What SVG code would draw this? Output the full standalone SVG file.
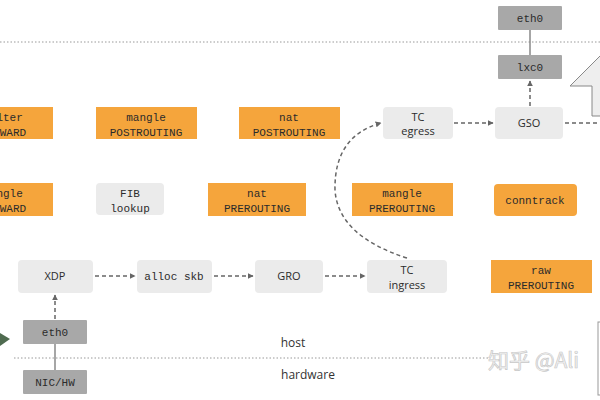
<svg xmlns="http://www.w3.org/2000/svg" width="600" height="400" viewBox="0 0 600 400">
<style>
.o{fill:#F5A53C}
.l{fill:#EBEBEB}
.d{fill:#A8A8A8}
.m{font-family:"Liberation Mono","DejaVu Sans Mono",monospace;font-size:11px;fill:#2b2b2b;text-anchor:middle}
.s{font-family:"Open Sans","Noto Sans",sans-serif;font-size:11px;fill:#2b2b2b;text-anchor:middle}
.c{fill:none;stroke:#666;stroke-width:1.5;stroke-dasharray:4 3}
.sep{stroke:#999;stroke-width:1;stroke-dasharray:1.5 2}
.lab{font-family:"Open Sans","Noto Sans",sans-serif;font-size:12px;fill:#333;text-anchor:middle}
</style>
<defs>
<marker id="ah" viewBox="0 0 10 10" refX="9" refY="5" markerWidth="4" markerHeight="4" orient="auto">
<path d="M0 0 L10 5 L0 10 z" fill="#666"/>
</marker>
</defs>
<rect width="600" height="400" fill="#fff"/>
<line class="sep" x1="0" y1="42" x2="600" y2="42"/>
<line class="sep" x1="14" y1="358" x2="490" y2="358"/>
<text class="lab" x="293" y="347">host</text>
<text class="lab" x="308" y="379">hardware</text>
<text x="488" y="368" font-family="'Noto Sans CJK SC','Noto Sans',sans-serif" font-size="21" fill="#f4f4f4" stroke="#c8c8c8" stroke-width="0.7">知乎 @Ali</text>

<g id="connectors">
<line x1="530" y1="30" x2="530" y2="55" stroke="#888" stroke-width="1.5"/>
<line x1="55" y1="344" x2="55" y2="370" stroke="#888" stroke-width="1.5"/>
<line class="c" x1="530" y1="106" x2="530" y2="81" marker-end="url(#ah)"/>
<line class="c" x1="454" y1="123" x2="493" y2="123" marker-end="url(#ah)"/>
<line class="c" x1="565" y1="123" x2="600" y2="123"/>
<line class="c" x1="95" y1="276" x2="135" y2="276" marker-end="url(#ah)"/>
<line class="c" x1="214" y1="276" x2="253" y2="276" marker-end="url(#ah)"/>
<line class="c" x1="325" y1="276" x2="365" y2="276" marker-end="url(#ah)"/>
<line class="c" x1="55" y1="319" x2="55" y2="295" marker-end="url(#ah)"/>
<path class="c" d="M407 258 Q338 236 335 190 Q334 136 381 123" marker-end="url(#ah)"/>
</g>

<g id="big-arrow">
<polygon points="570,86 601,55 632,86 612,86 612,116 592,116 592,86" fill="#eeeeee" stroke="#888" stroke-width="1"/>
</g>
<g id="green-arrow">
<polygon points="0,333 10,339 0,346" fill="#4f6b50"/>
</g>
<g id="side-box">
<rect x="598" y="322" width="12" height="73" fill="#fff" stroke="#999" stroke-width="1"/>
</g>

<g id="eth0-top"><rect class="d" x="498" y="6" width="64" height="24" rx="1"/><text class="m" x="530" y="22">eth0</text></g>
<g id="lxc0"><rect class="d" x="498" y="55" width="64" height="24" rx="1"/><text class="m" x="530" y="71">lxc0</text></g>
<g id="gso"><rect class="l" x="495" y="107" width="68" height="32" rx="4"/><text class="s" x="529" y="127">GSO</text></g>
<g id="tc-egress"><rect class="l" x="383" y="107" width="70" height="32" rx="4"/><text class="s" x="418" y="121">TC</text><text class="s" x="418" y="135">egress</text></g>

<g id="filter-forward"><rect class="o" x="-47" y="107" width="100" height="32"/><text class="m" x="3" y="121">filter</text><text class="m" x="3" y="136">FORWARD</text></g>
<g id="mangle-postrouting"><rect class="o" x="96" y="107" width="101" height="32"/><text class="m" x="146" y="121">mangle</text><text class="m" x="146" y="136">POSTROUTING</text></g>
<g id="nat-postrouting"><rect class="o" x="239" y="107" width="101" height="32"/><text class="m" x="289" y="121">nat</text><text class="m" x="289" y="136">POSTROUTING</text></g>

<g id="mangle-forward"><rect class="o" x="-47" y="183" width="100" height="33"/><text class="m" x="3" y="197">mangle</text><text class="m" x="3" y="212">FORWARD</text></g>
<g id="fib-lookup"><rect class="l" x="96" y="183" width="68" height="32" rx="4"/><text class="m" x="130" y="197">FIB</text><text class="m" x="130" y="212">lookup</text></g>
<g id="nat-prerouting"><rect class="o" x="208" y="183" width="98" height="33"/><text class="m" x="257" y="197">nat</text><text class="m" x="257" y="212">PREROUTING</text></g>
<g id="mangle-prerouting"><rect class="o" x="352" y="183" width="101" height="33"/><text class="m" x="402" y="197">mangle</text><text class="m" x="402" y="212">PREROUTING</text></g>
<g id="conntrack"><rect class="o" x="494" y="184" width="83" height="32" rx="4"/><text class="m" x="535" y="204">conntrack</text></g>

<g id="xdp"><rect class="l" x="18" y="260" width="75" height="33" rx="4"/><text class="s" x="55" y="280">XDP</text></g>
<g id="alloc-skb"><rect class="l" x="137" y="260" width="75" height="33" rx="4"/><text class="m" x="174" y="280">alloc skb</text></g>
<g id="gro"><rect class="l" x="255" y="260" width="68" height="33" rx="4"/><text class="s" x="289" y="280">GRO</text></g>
<g id="tc-ingress"><rect class="l" x="367" y="260" width="80" height="33" rx="4"/><text class="s" x="407" y="274">TC</text><text class="s" x="407" y="289">ingress</text></g>
<g id="raw-prerouting"><rect class="o" x="491" y="260" width="101" height="33"/><text class="m" x="541" y="274">raw</text><text class="m" x="541" y="289">PREROUTING</text></g>

<g id="eth0-bottom"><rect class="d" x="23" y="320" width="64" height="24" rx="1"/><text class="m" x="55" y="336">eth0</text></g>
<g id="nic-hw"><rect class="d" x="23" y="370" width="64" height="24" rx="1"/><text class="m" x="55" y="386">NIC/HW</text></g>
</svg>
